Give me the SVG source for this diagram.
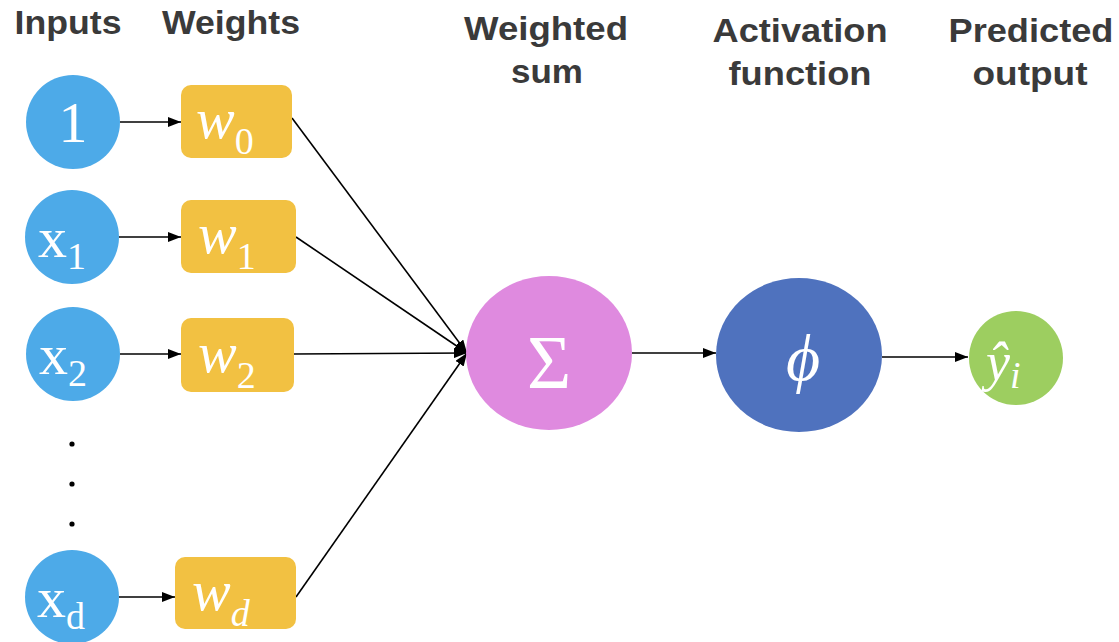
<svg xmlns="http://www.w3.org/2000/svg" width="1119" height="642" viewBox="0 0 1119 642">
<style>
.hd{font-family:"Liberation Sans",Arial,sans-serif;font-weight:bold;font-size:34px;fill:#3a3a3a;text-anchor:middle}
.in{fill:#4DAAE8}
.wt{fill:#F2C142}
.m{font-family:"Liberation Serif","DejaVu Serif",serif;fill:#ffffff}
.big{font-size:58px}
.sub{font-size:38px;font-style:normal}
.it{font-style:italic}
.ln{stroke:#000;stroke-width:1.6;fill:none;marker-end:url(#ah)}
</style>
<defs>
<marker id="ah" markerUnits="userSpaceOnUse" markerWidth="13" markerHeight="10" refX="13" refY="5" orient="auto">
<path d="M0,0 L13,5 L0,10 z" fill="#000"/>
</marker>
</defs>
<rect width="1119" height="642" fill="#ffffff"/>
<g id="headings">
<text class="hd" x="68" y="34" textLength="107" lengthAdjust="spacingAndGlyphs">Inputs</text>
<text class="hd" x="231" y="34" textLength="138" lengthAdjust="spacingAndGlyphs">Weights</text>
<text class="hd" x="546" y="40" textLength="164" lengthAdjust="spacingAndGlyphs">Weighted</text>
<text class="hd" x="547" y="83" textLength="72" lengthAdjust="spacingAndGlyphs">sum</text>
<text class="hd" x="800" y="42" textLength="175" lengthAdjust="spacingAndGlyphs">Activation</text>
<text class="hd" x="800" y="85" textLength="143" lengthAdjust="spacingAndGlyphs">function</text>
<text class="hd" x="1031" y="42" textLength="165" lengthAdjust="spacingAndGlyphs">Predicted</text>
<text class="hd" x="1030" y="85" textLength="115" lengthAdjust="spacingAndGlyphs">output</text>
</g>
<g id="connectors">
<line class="ln" x1="120" y1="122" x2="181" y2="122"/>
<line class="ln" x1="119" y1="237" x2="181" y2="237"/>
<line class="ln" x1="120" y1="354" x2="181" y2="354"/>
<line class="ln" x1="119" y1="597" x2="175" y2="597"/>
<line class="ln" x1="292" y1="118" x2="467" y2="353"/>
<line class="ln" x1="296" y1="237" x2="467" y2="353"/>
<line class="ln" x1="294" y1="354" x2="467" y2="353"/>
<line class="ln" x1="296" y1="597" x2="467" y2="353"/>
<line class="ln" x1="632" y1="353" x2="716" y2="353"/>
<line class="ln" x1="882" y1="357" x2="968" y2="357"/>
</g>
<g id="dots" fill="#000">
<circle cx="72" cy="444" r="2.6"/>
<circle cx="72" cy="484" r="2.6"/>
<circle cx="72" cy="524" r="2.6"/>
</g>
<g id="in0"><circle class="in" cx="73" cy="122" r="47"/><text class="m big" x="73" y="142" text-anchor="middle">1</text></g>
<g id="in1"><circle class="in" cx="72" cy="237" r="47"/><text class="m big" x="38" y="257">x<tspan class="sub" dy="12">1</tspan></text></g>
<g id="in2"><circle class="in" cx="73" cy="354" r="47"/><text class="m big" x="39" y="374">x<tspan class="sub" dy="12">2</tspan></text></g>
<g id="ind"><circle class="in" cx="72" cy="597" r="47"/><text class="m big" x="37" y="617">x<tspan class="sub" dy="12">d</tspan></text></g>
<g id="w0"><rect class="wt" x="181" y="85" width="111" height="73" rx="10"/><text class="m big" x="196" y="138"><tspan class="it">w</tspan><tspan class="sub" dy="16">0</tspan></text></g>
<g id="w1"><rect class="wt" x="181" y="200" width="115" height="73" rx="10"/><text class="m big" x="198" y="253"><tspan class="it">w</tspan><tspan class="sub" dy="16">1</tspan></text></g>
<g id="w2"><rect class="wt" x="181" y="318" width="113" height="74" rx="10"/><text class="m big" x="198" y="372"><tspan class="it">w</tspan><tspan class="sub" dy="16">2</tspan></text></g>
<g id="wd"><rect class="wt" x="175" y="557" width="121" height="72" rx="10"/><text class="m big" x="192" y="610"><tspan class="it">w</tspan><tspan class="sub it" dy="16">d</tspan></text></g>
<g id="sum"><ellipse cx="549" cy="353" rx="83" ry="77" fill="#DF8ADF"/><text class="m" x="549" y="388" font-size="76" text-anchor="middle">Σ</text></g>
<g id="act"><ellipse cx="799" cy="355" rx="83" ry="77" fill="#4F72BE"/><text class="m it" x="803" y="380" font-size="66" text-anchor="middle">ϕ</text></g>
<g id="out"><ellipse cx="1016" cy="358" rx="47" ry="47" fill="#9DCE60"/><text class="m" x="986" y="380" font-size="54"><tspan class="it">ŷ</tspan><tspan class="sub it" font-size="34" dy="8">i</tspan></text></g>
</svg>
